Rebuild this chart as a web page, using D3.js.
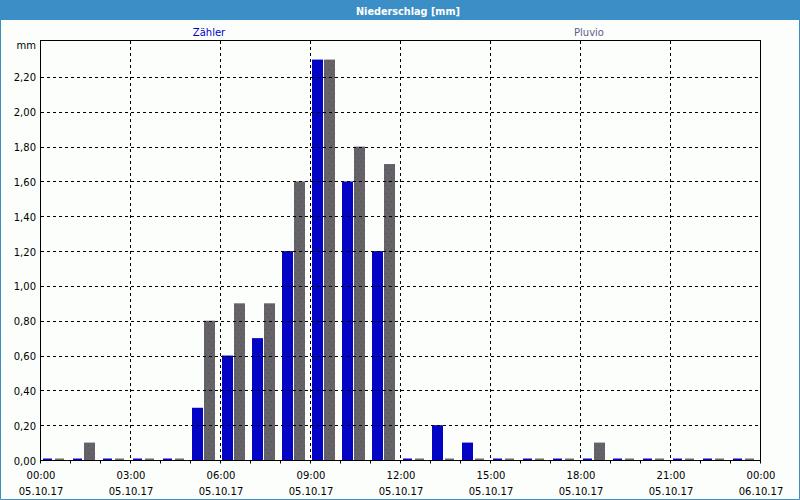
<!DOCTYPE html>
<html><head><meta charset="utf-8">
<script src="https://cdn.jsdelivr.net/npm/d3@7"></script>
<style>html,body{margin:0;padding:0;background:#fcfefc;}svg{display:block;}</style>
</head><body>
<svg id="c" width="800" height="500"></svg>
<script>
const title = "Niederschlag [mm]";
const unitLabel = "mm";
const seriesNames = ["Zähler", "Pluvio"];
const hours = d3.range(0, 24);
const zaehler = [0,0,0,0,0,0.3,0.6,0.7,1.2,2.3,1.6,1.2,0,0.2,0.1,0,0,0,0,0,0,0,0,0];
const pluvio  = [0,0.1,0,0,0,0.8,0.9,0.9,1.6,2.3,1.8,1.7,0,0,0,0,0,0,0.1,0,0,0,0,0];
const yTicks = [0,0.2,0.4,0.6,0.8,1.0,1.2,1.4,1.6,1.8,2.0,2.2];
const xTickHours = [0,3,6,9,12,15,18,21,24];
const xTimeLabels = ["00:00","03:00","06:00","09:00","12:00","15:00","18:00","21:00","00:00"];
const xDateLabels = ["05.10.17","05.10.17","05.10.17","05.10.17","05.10.17","05.10.17","05.10.17","05.10.17","06.10.17"];

const svg = d3.select("#c");
const W = 800, H = 500;
const L = 40, R = 760, T = 40, B = 460;
const font = "DejaVu Sans, Verdana, sans-serif";

svg.append("rect").attr("width", W).attr("height", H).attr("fill", "#fcfefc");
// title bar
svg.append("rect").attr("x",0).attr("y",0).attr("width",W).attr("height",20).attr("fill","#3b8fc6");
svg.append("text").attr("x",408).attr("y",14.5).attr("text-anchor","middle")
  .attr("font-family",font).attr("font-weight","bold").attr("font-size","10px")
  .attr("fill","#ffffff").attr("textLength",104).attr("lengthAdjust","spacingAndGlyphs").text(title);
// window border
svg.append("path").attr("d",`M0.5,20 V499.5 H799.5 V20`).attr("fill","none").attr("stroke","#3b8fc6").attr("stroke-width",1);

const x = d3.scaleLinear().domain([0,24]).range([L,R]);
const y = d3.scaleLinear().domain([0,2.4125]).range([B,T]);

const defs = svg.append("defs");
const pat = defs.append("pattern").attr("id","dots").attr("patternUnits","userSpaceOnUse")
  .attr("width",6).attr("height",8);
pat.append("rect").attr("width",6).attr("height",8).attr("fill","#656365");
pat.append("rect").attr("x",1).attr("y",1).attr("width",1).attr("height",1).attr("fill","#4a4a86");
pat.append("rect").attr("x",4).attr("y",5).attr("width",1).attr("height",1).attr("fill","#4a4a86");

// bars
const colors = ["#0404c4", "url(#dots)"];
const stubColors = ["#0404c4", "#6b696b"];
[zaehler, pluvio].forEach((vals, si) => {
  svg.append("g").selectAll("rect").data(hours).join("rect")
    .attr("x", h => vals[h] > 0 ? x(h) + 2 + si*12 : x(h) + 3 + si*12)
    .attr("width", h => vals[h] > 0 ? 11 : 9)
    .attr("y", h => vals[h] > 0 ? y(vals[h]) : B - 1.5)
    .attr("height", h => vals[h] > 0 ? B - y(vals[h]) : 1.5)
    .attr("fill", h => vals[h] > 0 ? colors[si] : stubColors[si]);
});

// grid
const grid = svg.append("g").attr("stroke","#000").attr("stroke-width",1).attr("stroke-dasharray","3,3").attr("fill","none");
yTicks.filter(v => v > 0).forEach(v => {
  const yy = Math.round(y(v)) + 0.5;
  grid.append("line").attr("x1",L+1).attr("x2",R).attr("y1",yy).attr("y2",yy);
});
xTickHours.filter(h => h > 0 && h < 24).forEach(h => {
  const xx = Math.round(x(h)) + 0.5;
  grid.append("line").attr("x1",xx).attr("x2",xx).attr("y1",T+1).attr("y2",B);
});

// frame
svg.append("rect").attr("x",L+0.5).attr("y",T+0.5).attr("width",R-L).attr("height",B-T)
  .attr("fill","none").attr("stroke","#000").attr("stroke-width",1);

// hourly ticks
svg.append("g").selectAll("line").data(d3.range(0,25)).join("line")
  .attr("x1", h => Math.round(x(h))+0.5).attr("x2", h => Math.round(x(h))+0.5)
  .attr("y1", B).attr("y2", B+3.5).attr("stroke","#000");

// y labels
svg.append("g").selectAll("text").data(yTicks).join("text")
  .attr("x", 36).attr("y", v => y(v) + 4.5).attr("text-anchor","end")
  .attr("font-family",font).attr("font-size","10px").attr("fill","#000")
  .text(v => d3.format(".2f")(v).replace(".", ","));
svg.append("text").attr("x",36).attr("y",49).attr("text-anchor","end")
  .attr("font-family",font).attr("font-size","10px").attr("fill","#000").text(unitLabel);

// x labels
const xl = svg.append("g").attr("font-family",font).attr("font-size","10px").attr("fill","#000").attr("text-anchor","middle");
xTickHours.forEach((h,i) => {
  xl.append("text").attr("x", x(h)+1).attr("y", 479).text(xTimeLabels[i]);
  xl.append("text").attr("x", x(h)+1).attr("y", 495).text(xDateLabels[i]);
});

// legend
const leg = svg.append("g").attr("font-family",font).attr("font-size","10px").attr("text-anchor","middle");
leg.append("text").attr("x",209).attr("y",36).attr("fill","#0000c8").text(seriesNames[0]);
leg.append("text").attr("x",589).attr("y",36).attr("fill","#5c5c8c").text(seriesNames[1]);
</script>
</body></html>
